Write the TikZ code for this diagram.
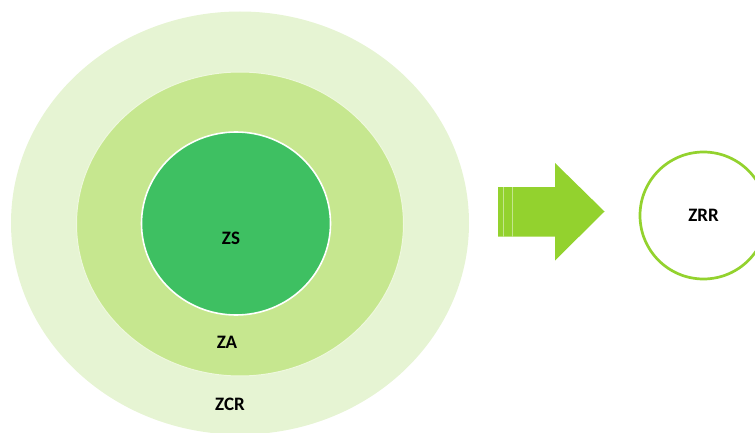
\documentclass[tikz,border=0pt]{standalone}
\usepackage{fontspec}
\setmainfont{Carlito}
\usetikzlibrary{shapes.geometric}
\definecolor{zcrgreen}{HTML}{E6F4D3}
\definecolor{zagreen}{HTML}{C6E78F}
\definecolor{zsgreen}{HTML}{3EC062}
\definecolor{arrowgreen}{HTML}{93D22E}
\tikzstyle{zone}=[ellipse,inner sep=0pt]
\tikzstyle{zlabel}=[font=\fontsize{19}{22}\selectfont\bfseries,inner sep=0pt]
\tikzstyle{stripe}=[line width=.8pt,white!45!arrowgreen]

\begin{document}
\begin{tikzpicture}[x=1pt,y=-1pt]
	\useasboundingbox (0,0) rectangle (755,433);
	\clip (0,0) rectangle (755,433);
	\node[zone,fill=zcrgreen,minimum width=458pt,minimum height=423pt] (zcr) at (240,223) {};
	\node[zone,fill=zagreen,draw=white!70!zagreen,line width=1pt,minimum width=327pt,minimum height=304pt] (za) at (240,224) {};
	\node[zone,fill=zsgreen,draw=white,line width=1.6pt,minimum width=189pt,minimum height=183pt] (zs) at (236,223.5) {};
	\node[zlabel] (zs label) at (231,238) {ZS};
	\node[zlabel] (za label) at (227,342) {ZA};
	\node[zlabel] (zcr label) at (230,404) {ZCR};
	\fill[arrowgreen] (498,187) -- (555,187) -- (555,163) -- (604.5,211.5) -- (555,260.5) -- (555,236.5) -- (498,236.5) -- cycle;
	\draw[stripe] (503.3,187) -- (503.3,236.5);
	\draw[stripe] (512.3,187) -- (512.3,236.5);
	\node[circle,draw=arrowgreen,line width=2.7pt,fill=white,minimum size=127pt,inner sep=0pt] (zrr) at (703.5,215.5) {};
	\node[zlabel] (zrr label) at (zrr) {ZRR};
\end{tikzpicture}
\end{document}
